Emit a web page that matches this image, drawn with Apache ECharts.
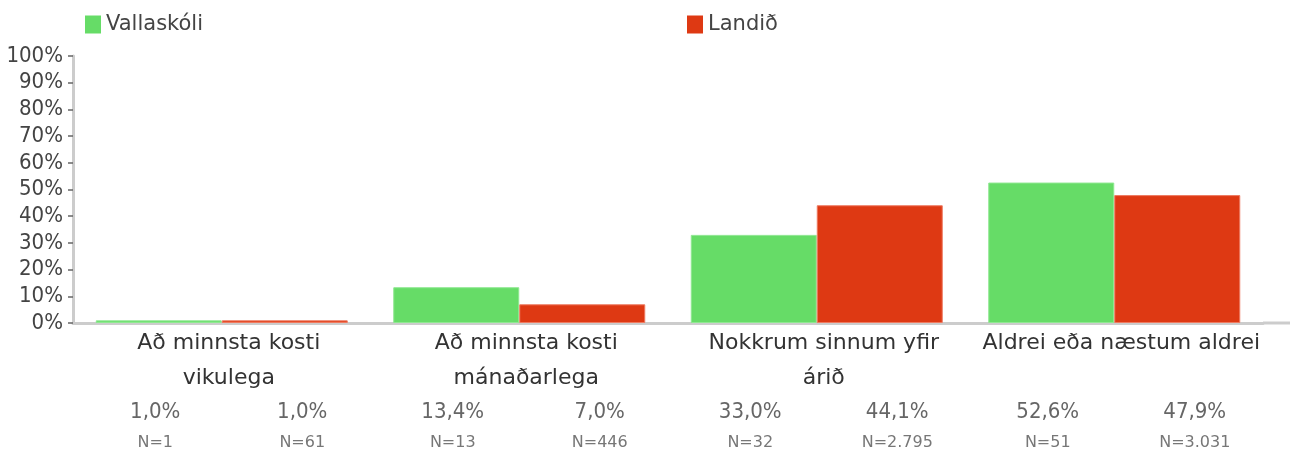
<!DOCTYPE html>
<html>
<head>
<meta charset="utf-8">
<title>Vallaskóli og landið</title>
<script src="https://cdn.jsdelivr.net/npm/echarts@6/dist/echarts.min.js"></script>
<style>
  html, body { margin: 0; padding: 0; background: #fff; }
  #chart { width: 1290px; height: 459px; }
</style>
</head>
<body>
<div id="chart"></div>
<script>
// Answer categories (line breaks follow the printed wrapping)
const categories = [
  'Að minnsta kosti\nvikulega',
  'Að minnsta kosti\nmánaðarlega',
  'Nokkrum sinnum yfir\nárið',
  'Aldrei eða næstum aldrei'
];
// Share of answers, percent
const vallaskoli = [1.0, 13.4, 33.0, 52.6];
const landid = [1.0, 7.0, 44.1, 47.9];
// Number of respondents behind each share
const nVallaskoli = [1, 13, 32, 51];
const nLandid = [61, 446, 2795, 3031];

const GREEN = '#66DC67';
const RED = '#DE3913';
const wide = 'DejaVu Sans';
const narrow = 'DejaVu Sans Condensed';

const pct = v => v.toFixed(1).replace('.', ',') + '%';
const thousands = n => String(n).replace(/\B(?=(\d{3})+(?!\d))/g, '.');

const chart = echarts.init(document.getElementById('chart'), null, { renderer: 'canvas' });

const legendBase = {
  icon: 'rect', itemWidth: 16, itemHeight: 18, itemGap: 8, top: 9,
  itemStyle: { borderWidth: 0 },
  textStyle: { fontFamily: wide, fontSize: 21, color: '#444' }
};

chart.setOption({
  animation: false,
  legend: [
    Object.assign({ data: ['Vallaskóli'], left: 80 }, legendBase),
    Object.assign({ data: ['Landið'], left: 682 }, legendBase)
  ],
  grid: { left: 73, right: 27, top: 56, bottom: 136, containLabel: false },
  xAxis: {
    type: 'category',
    data: categories,
    axisLine: { show: true, lineStyle: { color: '#cccccc', width: 3 } },
    axisTick: { show: false },
    axisLabel: {
      interval: 0,
      margin: 3,
      padding: [0, 0, 0, 14],
      formatter: (value, idx) => {
        const lines = value.split('\n');
        if (lines.length < 2) lines.push(' ');
        return lines.map(l => `{c|${l}}`).join('\n') +
          `\n{v|${pct(vallaskoli[idx])}}{v|${pct(landid[idx])}}` +
          `\n{n|N=${thousands(nVallaskoli[idx])}}{n|N=${thousands(nLandid[idx])}}`;
      },
      rich: {
        c: { fontFamily: wide, fontSize: 22, color: '#333', lineHeight: 35, align: 'center' },
        v: { fontFamily: narrow, fontSize: 22, color: '#666', lineHeight: 33, width: 147, align: 'center' },
        n: { fontFamily: wide, fontSize: 16, color: '#777', lineHeight: 28, width: 147, align: 'center' }
      }
    }
  },
  yAxis: {
    type: 'value',
    min: 0, max: 100, interval: 10,
    splitLine: { show: false },
    axisLine: { show: true, lineStyle: { color: '#cccccc', width: 3 } },
    axisTick: { show: true, length: 5, lineStyle: { color: '#666', width: 1.5 } },
    axisLabel: {
      formatter: '{value}%', margin: 10,
      fontFamily: narrow, fontSize: 22, color: '#444'
    }
  },
  series: [
    {
      name: 'Vallaskóli', type: 'bar', data: vallaskoli,
      barWidth: 126, barGap: '0%',
      itemStyle: { color: GREEN, borderColor: '#8FE891', borderWidth: 1 }
    },
    {
      name: 'Landið', type: 'bar', data: landid,
      barWidth: 126, barGap: '0%',
      itemStyle: { color: RED, borderColor: '#EE7A60', borderWidth: 1 }
    }
  ]
});

// Baseline continues to the right edge of the canvas
const rect = chart.getModel().getComponent('grid').coordinateSystem.getRect();
const y0 = chart.convertToPixel({ yAxisIndex: 0 }, 0);
chart.setOption({
  graphic: [{
    type: 'line', silent: true, z: 1,
    shape: { x1: rect.x + rect.width, y1: y0, x2: 1290, y2: y0 },
    style: { stroke: '#cccccc', lineWidth: 3 }
  }]
});
</script>
</body>
</html>
